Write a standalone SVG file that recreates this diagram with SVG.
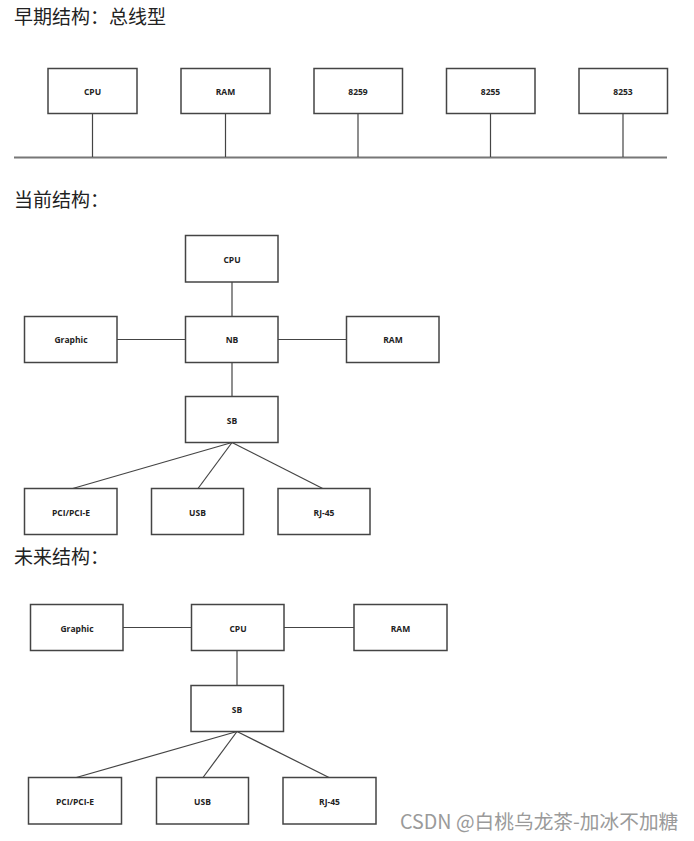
<svg xmlns="http://www.w3.org/2000/svg" width="694" height="841" viewBox="0 0 694 841">
<style>
.title{font-family:"Noto Sans CJK SC","Noto Sans",sans-serif;font-size:19px;fill:#222}
.box{fill:#fff;stroke:#444;stroke-width:1.5}
.lbl{font-family:"Open Sans","Liberation Sans",sans-serif;font-weight:bold;font-size:8.5px;fill:#222;text-anchor:middle;dominant-baseline:central}
.ln{stroke:#444;stroke-width:1.2;fill:none}
.bus{stroke:#777;stroke-width:2;fill:none}
.wm{font-family:"Noto Sans CJK SC","Liberation Sans",sans-serif;font-size:19.7px;fill:#9a9a9a}
</style>
<rect width="694" height="841" fill="#fff"/>

<text class="title" x="14" y="24">早期结构：总线型</text>
<text class="title" x="14" y="207">当前结构：</text>
<text class="title" x="14" y="564">未来结构：</text>

<g id="connectors">
  <line class="bus" x1="14" y1="157.5" x2="667" y2="157.5"/>
  <line class="ln" x1="92.5" y1="113" x2="92.5" y2="157"/>
  <line class="ln" x1="225.5" y1="113" x2="225.5" y2="157"/>
  <line class="ln" x1="358" y1="113" x2="358" y2="157"/>
  <line class="ln" x1="490.5" y1="113" x2="490.5" y2="157"/>
  <line class="ln" x1="623" y1="113" x2="623" y2="157"/>
  <line class="ln" x1="232" y1="282" x2="232" y2="316.5"/>
  <line class="ln" x1="117" y1="339.5" x2="185.5" y2="339.5"/>
  <line class="ln" x1="278" y1="339.5" x2="346.5" y2="339.5"/>
  <line class="ln" x1="232" y1="362.5" x2="232" y2="396.5"/>
  <line class="ln" x1="232" y1="442.5" x2="72.7" y2="488.5"/>
  <line class="ln" x1="232" y1="442.5" x2="198" y2="488.5"/>
  <line class="ln" x1="232" y1="442.5" x2="322.7" y2="488.5"/>
  <line class="ln" x1="123" y1="627.5" x2="191.5" y2="627.5"/>
  <line class="ln" x1="284" y1="627.5" x2="354" y2="627.5"/>
  <line class="ln" x1="237" y1="650.5" x2="237" y2="685.5"/>
  <line class="ln" x1="237" y1="731.5" x2="76.3" y2="777.5"/>
  <line class="ln" x1="237" y1="731.5" x2="203" y2="777.5"/>
  <line class="ln" x1="237" y1="731.5" x2="329" y2="777.5"/>
</g>

<g id="s1-cpu"><rect class="box" x="48" y="68.5" width="89" height="45"/><text class="lbl" x="92.5" y="91">CPU</text></g>
<g id="s1-ram"><rect class="box" x="181" y="68.5" width="89" height="45"/><text class="lbl" x="225.5" y="91">RAM</text></g>
<g id="s1-8259"><rect class="box" x="314" y="68.5" width="88.5" height="45"/><text class="lbl" x="358" y="91">8259</text></g>
<g id="s1-8255"><rect class="box" x="446.5" y="68.5" width="88.5" height="45"/><text class="lbl" x="490.5" y="91">8255</text></g>
<g id="s1-8253"><rect class="box" x="579" y="68.5" width="88.5" height="45"/><text class="lbl" x="623" y="91">8253</text></g>

<g id="s2-cpu"><rect class="box" x="185.5" y="235.5" width="92.5" height="46.5"/><text class="lbl" x="232" y="259">CPU</text></g>
<g id="s2-graphic"><rect class="box" x="24.5" y="316.5" width="92.5" height="46"/><text class="lbl" x="71" y="339.5">Graphic</text></g>
<g id="s2-nb"><rect class="box" x="185.5" y="316.5" width="92.5" height="46"/><text class="lbl" x="232" y="339.5">NB</text></g>
<g id="s2-ram"><rect class="box" x="346.5" y="316.5" width="92.5" height="46"/><text class="lbl" x="393" y="339.5">RAM</text></g>
<g id="s2-sb"><rect class="box" x="185.5" y="396.5" width="92.5" height="46"/><text class="lbl" x="232" y="420">SB</text></g>
<g id="s2-pci"><rect class="box" x="24.5" y="488.5" width="92.5" height="46"/><text class="lbl" x="71" y="512">PCI/PCI-E</text></g>
<g id="s2-usb"><rect class="box" x="151.5" y="488.5" width="92" height="46"/><text class="lbl" x="197.5" y="512">USB</text></g>
<g id="s2-rj45"><rect class="box" x="278" y="488.5" width="92" height="46"/><text class="lbl" x="324" y="512">RJ-45</text></g>

<g id="s3-graphic"><rect class="box" x="30.5" y="604.5" width="92.5" height="46"/><text class="lbl" x="77" y="628">Graphic</text></g>
<g id="s3-cpu"><rect class="box" x="191.5" y="604.5" width="92.5" height="46"/><text class="lbl" x="238" y="628">CPU</text></g>
<g id="s3-ram"><rect class="box" x="354" y="604.5" width="93" height="46"/><text class="lbl" x="400.5" y="628">RAM</text></g>
<g id="s3-sb"><rect class="box" x="191" y="685.5" width="92.5" height="46"/><text class="lbl" x="237" y="709">SB</text></g>
<g id="s3-pci"><rect class="box" x="28.5" y="777.5" width="93" height="46.5"/><text class="lbl" x="75" y="801">PCI/PCI-E</text></g>
<g id="s3-usb"><rect class="box" x="156.5" y="777.5" width="92" height="46.5"/><text class="lbl" x="202.5" y="801">USB</text></g>
<g id="s3-rj45"><rect class="box" x="283" y="777.5" width="93" height="46.5"/><text class="lbl" x="329.5" y="801">RJ-45</text></g>

<text class="wm" x="400" y="829">CSDN @白桃乌龙茶-加冰不加糖</text>
</svg>
